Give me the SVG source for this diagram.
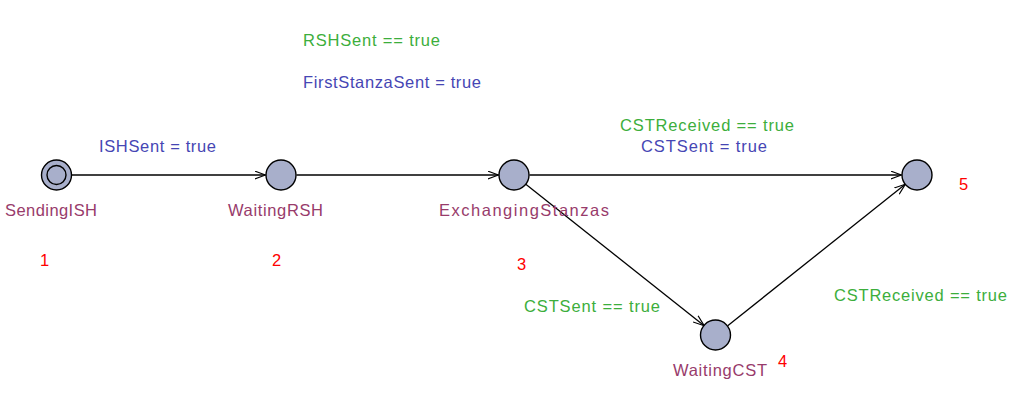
<svg xmlns="http://www.w3.org/2000/svg" width="1027" height="406" viewBox="0 0 1027 406">
<defs>
<marker id="arr" markerUnits="userSpaceOnUse" markerWidth="12" markerHeight="10" refX="11" refY="4.5" orient="auto">
<path d="M0,0.5 L11,4.5 L0,8.5" fill="none" stroke="#000" stroke-width="1.2"/>
</marker>
<style>
text{font-family:"Liberation Sans",Arial,sans-serif;font-size:16.5px}
.loc{fill:#a8afcb;stroke:#000;stroke-width:1.4}
.name{fill:#983b6b}
.guard{fill:#3cae3c}
.assign{fill:#4646b4}
.num{fill:#ff0000}
.edge{stroke:#000;stroke-width:1.3;fill:none;marker-end:url(#arr)}
</style>
</defs>
<rect width="1027" height="406" fill="#fff"/>
<g id="connectors">
<line class="edge" x1="71.5" y1="175" x2="265.5" y2="175"/>
<line class="edge" x1="296.5" y1="175" x2="498.5" y2="175"/>
<line class="edge" x1="529.5" y1="175" x2="901.5" y2="175"/>
<line class="edge" x1="525.8" y1="184.3" x2="704.2" y2="325.7"/>
<line class="edge" x1="727.7" y1="325.7" x2="905.3" y2="184.3"/>
<text class="assign" x="99" y="152" textLength="117" lengthAdjust="spacing">ISHSent = true</text>
<text class="guard" x="303" y="46" textLength="137" lengthAdjust="spacing">RSHSent == true</text>
<text class="assign" x="303" y="87.5" textLength="178" lengthAdjust="spacing">FirstStanzaSent = true</text>
<text class="guard" x="620" y="131" textLength="174" lengthAdjust="spacing">CSTReceived == true</text>
<text class="assign" x="641" y="151.5" textLength="126" lengthAdjust="spacing">CSTSent = true</text>
<text class="guard" x="524" y="311.5" textLength="136" lengthAdjust="spacing">CSTSent == true</text>
<text class="guard" x="834" y="301" textLength="173" lengthAdjust="spacing">CSTReceived == true</text>
</g>
<g id="SendingISH">
<circle class="loc" cx="56.5" cy="175" r="15"/>
<circle fill="none" stroke="#000" stroke-width="1.4" cx="56.5" cy="175" r="9.5"/>
<text class="name" x="5" y="216" textLength="92" lengthAdjust="spacing">SendingISH</text>
<text class="num" x="40" y="266">1</text>
</g>
<g id="WaitingRSH">
<circle class="loc" cx="281" cy="175" r="15"/>
<text class="name" x="228" y="216" textLength="95" lengthAdjust="spacing">WaitingRSH</text>
<text class="num" x="272" y="266">2</text>
</g>
<g id="ExchangingStanzas">
<circle class="loc" cx="514" cy="175" r="15"/>
<text class="name" x="439" y="216" textLength="170" lengthAdjust="spacing">ExchangingStanzas</text>
<text class="num" x="517" y="270">3</text>
</g>
<g id="WaitingCST">
<circle class="loc" cx="715.5" cy="335" r="15"/>
<text class="name" x="673" y="376" textLength="94" lengthAdjust="spacing">WaitingCST</text>
<text class="num" x="778" y="367">4</text>
</g>
<g id="Final">
<circle class="loc" cx="917" cy="175" r="15"/>
<text class="num" x="959" y="190">5</text>
</g>
</svg>
